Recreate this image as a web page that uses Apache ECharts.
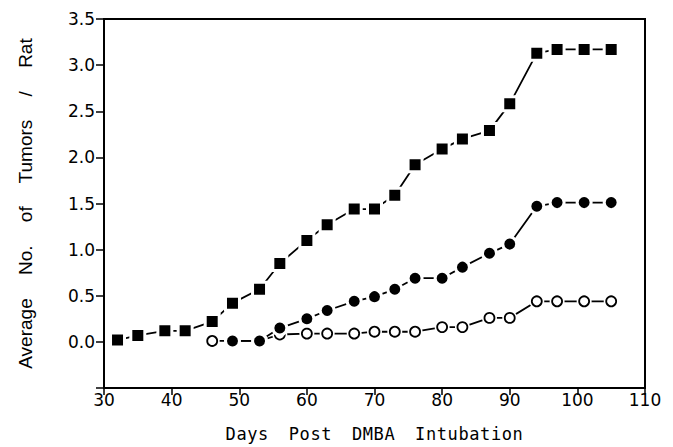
<!DOCTYPE html>
<html>
<head>
<meta charset="utf-8">
<script src="https://cdn.jsdelivr.net/npm/echarts@6/dist/echarts.min.js"></script>
<style>
html,body{margin:0;padding:0;background:#fff}
#c{width:673px;height:447px}
#c text[style*="Mono"]{letter-spacing:0.6px;word-spacing:9px}
#c text[style*="Liberation Sans"]{word-spacing:18px}
</style>
</head>
<body>
<div id="c"></div>
<script>
var squareDays = [32, 35, 39, 42, 46, 49, 53, 56, 60, 63, 67, 70, 73, 76, 80, 83, 87, 90, 94, 97, 101, 105];
var squareVals = [0.02, 0.07, 0.12, 0.12, 0.22, 0.42, 0.57, 0.85, 1.10, 1.27, 1.44, 1.44, 1.59, 1.92, 2.09, 2.20, 2.29, 2.58, 3.13, 3.17, 3.17, 3.17];
var filledDays = [49, 53, 56, 60, 63, 67, 70, 73, 76, 80, 83, 87, 90, 94, 97, 101, 105];
var filledVals = [0.01, 0.01, 0.15, 0.25, 0.34, 0.44, 0.49, 0.57, 0.69, 0.69, 0.81, 0.96, 1.06, 1.47, 1.51, 1.51, 1.51];
var openDays = [46, 49, 53, 56, 60, 63, 67, 70, 73, 76, 80, 83, 87, 90, 94, 97, 101, 105];
var openVals = [0.01, 0.01, 0.01, 0.08, 0.09, 0.09, 0.09, 0.11, 0.11, 0.11, 0.16, 0.16, 0.26, 0.26, 0.44, 0.44, 0.44, 0.44];
var xTicks = [30, 40, 50, 60, 70, 80, 90, 100, 110];
var yTicks = [0.0, 0.5, 1.0, 1.5, 2.0, 2.5, 3.0, 3.5];

function pairs(xs, ys) { return xs.map(function (x, i) { return [x, ys[i]]; }); }

var chart = echarts.init(document.getElementById('c'), null, { renderer: 'svg' });
chart.setOption({
  animation: false,
  backgroundColor: '#fff',
  grid: { left: 104, right: 28, top: 19, bottom: 59, outerBoundsMode: 'none', containLabel: false,
    show: true, borderColor: '#000', borderWidth: 2 },
  xAxis: {
    type: 'value', min: 30, max: 110, interval: 10,
    name: 'Days Post DMBA Intubation', nameLocation: 'middle', nameGap: 37,
    nameTextStyle: { fontFamily: 'DejaVu Sans Mono', fontSize: 17, color: '#000' },
    axisLine: { onZero: false, lineStyle: { color: '#000', width: 2 } },
    axisTick: { length: 7, lineStyle: { color: '#000', width: 1.5 } },
    axisLabel: { fontFamily: 'DejaVu Sans', fontSize: 17, color: '#000', margin: 3,
      formatter: function (v) { return xTicks.indexOf(v) >= 0 ? String(v) : ''; } },
    splitLine: { show: false }
  },
  yAxis: {
    type: 'value', min: -0.5, max: 3.5, interval: 0.5,
    name: 'Average No. of Tumors / Rat', nameLocation: 'middle', nameGap: 69,
    nameTextStyle: { fontFamily: 'Liberation Sans', fontSize: 19, color: '#000' },
    axisLine: { onZero: false, lineStyle: { color: '#000', width: 2 } },
    axisTick: { length: 8, lineStyle: { color: '#000', width: 1.5 } },
    axisLabel: { fontFamily: 'DejaVu Sans', fontSize: 17, color: '#000', margin: 9,
      formatter: function (v) { return yTicks.indexOf(v) >= 0 ? v.toFixed(1) : ''; } },
    splitLine: { show: false }
  },
  series: [
    { type: 'line', data: pairs(openDays, openVals), showSymbol: false,
      lineStyle: { color: '#000', width: 1.8 }, z: 2 },
    { type: 'line', data: pairs(openDays, openVals), symbol: 'circle', symbolSize: 15,
      itemStyle: { color: '#fff' }, lineStyle: { width: 0, opacity: 0 }, z: 3 },
    { type: 'line', data: pairs(openDays, openVals), symbol: 'circle', symbolSize: 10,
      itemStyle: { color: '#fff', borderColor: '#000', borderWidth: 1.8 },
      lineStyle: { width: 0, opacity: 0 }, z: 4 },
    { type: 'line', data: pairs(filledDays, filledVals), symbol: 'circle', symbolSize: 14,
      itemStyle: { color: '#000', borderColor: '#fff', borderWidth: 3 },
      lineStyle: { color: '#000', width: 1.8 }, z: 5 },
    { type: 'line', data: pairs(squareDays, squareVals), symbol: 'rect', symbolSize: 14,
      itemStyle: { color: '#000', borderColor: '#fff', borderWidth: 3 },
      lineStyle: { color: '#000', width: 1.8 }, z: 6 }
  ]
});
</script>
</body>
</html>
